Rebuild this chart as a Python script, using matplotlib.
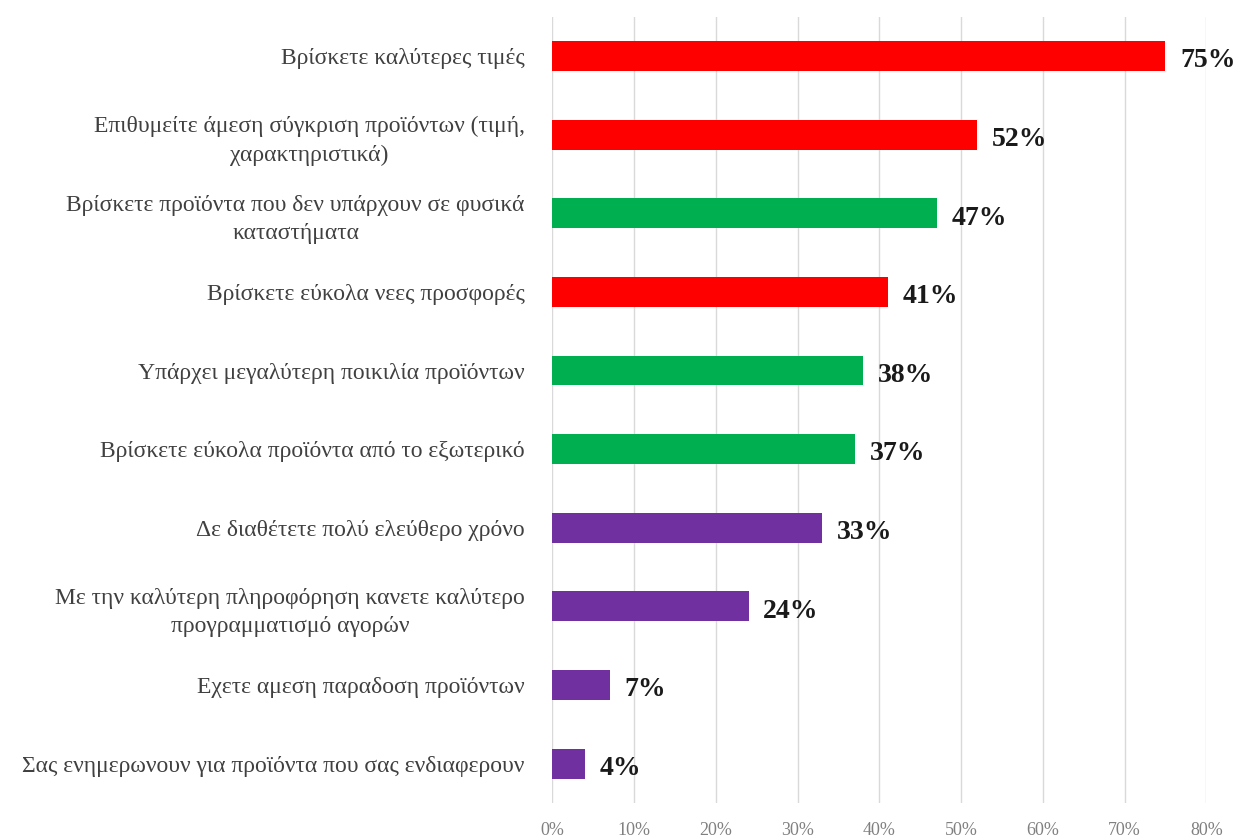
import numpy as np
import matplotlib.pyplot as plt

reasons = [
    'Βρίσκετε καλύτερες τιμές',
    'Επιθυμείτε άμεση σύγκριση προϊόντων (τιμή,\nχαρακτηριστικά)',
    'Βρίσκετε προϊόντα που δεν υπάρχουν σε φυσικά\nκαταστήματα',
    'Βρίσκετε εύκολα νεες προσφορές',
    'Υπάρχει μεγαλύτερη ποικιλία προϊόντων',
    'Βρίσκετε εύκολα προϊόντα από το εξωτερικό',
    'Δε διαθέτετε πολύ ελεύθερο χρόνο',
    'Με την καλύτερη πληροφόρηση κανετε καλύτερο\nπρογραμματισμό αγορών',
    'Εχετε αμεση παραδοση προϊόντων',
    'Σας ενημερωνουν για προϊόντα που σας ενδιαφερουν',
]
pct = [75, 52, 47, 41, 38, 37, 33, 24, 7, 4]
group = ['price', 'price', 'range', 'price', 'range', 'range',
         'time', 'time', 'time', 'time']
group_colors = {'price': '#FF0000', 'range': '#00B050', 'time': '#7030A0'}
xticks = [0, 10, 20, 30, 40, 50, 60, 70, 80]

plt.rcParams['font.family'] = ['Liberation Serif', 'DejaVu Serif']

fig, ax = plt.subplots(figsize=(12.36, 8.39), dpi=100)
fig.subplots_adjust(left=0.447, right=0.976, top=0.98, bottom=0.043)

y = np.arange(len(pct))
ax.barh(y, pct, height=0.38, color=[group_colors[g] for g in group], zorder=3)
for yi, v in zip(y, pct):
    ax.text(v + 1.8, yi + 0.06, f'{v}%', va='center', ha='left',
            fontsize=20, fontweight='bold', color='#1a1a1a')

ax.set_ylim(len(pct) - 0.5, -0.5)
ax.set_yticks(y)
ax.set_yticklabels(reasons, fontsize=17, color='#404040',
                   multialignment='center', linespacing=1.45)
ax.set_xlim(0, 80)
ax.set_xticks(xticks)
ax.set_xticklabels([f'{t}%' for t in xticks], fontsize=13, color='#808080')
ax.tick_params(axis='y', length=0, pad=20)
ax.tick_params(axis='x', length=0, pad=14)
ax.grid(axis='x', color='#D9D9D9', lw=1, zorder=0)
for s in ax.spines.values():
    s.set_visible(False)

fig.savefig('out.png', dpi=100, facecolor='white')
